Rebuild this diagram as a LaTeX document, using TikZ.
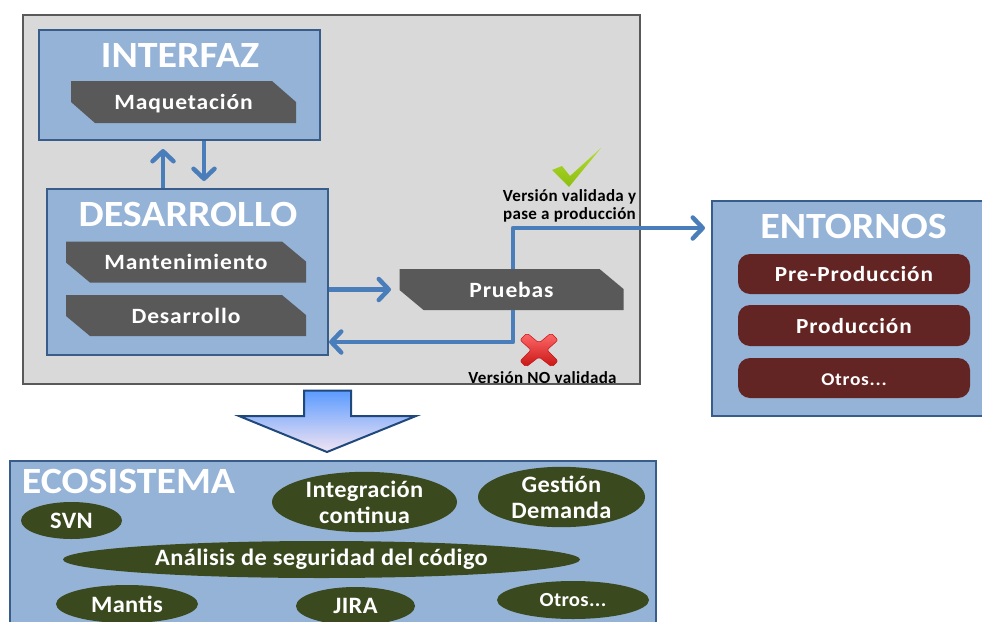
\documentclass[tikz,border=0pt]{standalone}
\usepackage{fontspec}
\setmainfont{Carlito}
\newfontfamily\lblfont[LetterSpace=4,FakeStretch=1.08]{Carlito}
\newfontfamily\ovalfont[LetterSpace=1.5,FakeStretch=1.04]{Carlito}
\newfontfamily\ttlfont[FakeStretch=1.08]{Carlito}
\newfontfamily\notefont[LetterSpace=2]{Carlito}
\usetikzlibrary{arrows.meta,shapes.geometric,shadings}
\definecolor{boxblue}{HTML}{95B3D7}
\definecolor{boxedge}{HTML}{385D8A}
\definecolor{linkblue}{HTML}{4A7EBB}
\definecolor{snipgrey}{HTML}{595959}
\definecolor{panel}{HTML}{D9D9D9}
\definecolor{paneledge}{HTML}{595959}
\definecolor{wine}{HTML}{632523}
\definecolor{olive}{HTML}{3B4A1E}
\definecolor{checktop}{HTML}{B4DC30}
\definecolor{checkbot}{HTML}{8CBE10}
\definecolor{crosstop}{HTML}{FF6A6A}
\definecolor{crossbot}{HTML}{C81414}
\definecolor{arrowtop}{HTML}{5B9BFF}
\definecolor{arrowmid}{HTML}{85B8F0}
\definecolor{arrowbot}{HTML}{F2E4F2}
\definecolor{arrowedge}{HTML}{1F497D}
\tikzset{
  x=1pt,y=-1pt,
  panelbox/.style={draw=paneledge,fill=panel,line width=2pt,rectangle,inner sep=0pt},
  bluebox/.style={draw=boxedge,fill=boxblue,line width=2pt,rectangle,inner sep=0pt},
  titletext/.style={font=\ttlfont\fontsize{37}{40}\selectfont\bfseries,text=white,inner sep=0pt},
  snipfill/.style={fill=snipgrey,draw=none},
  snipnode/.style={font=\lblfont\fontsize{21.8}{24}\selectfont\bfseries,text=white,inner sep=0pt,rectangle,
     text height=17pt,text depth=2pt},
  envbox/.style={rectangle,rounded corners=12pt,fill=wine,draw=none,inner sep=0pt,
     font=\lblfont\fontsize{21.5}{24}\selectfont\bfseries,text=white,text height=17pt,text depth=2pt},
  oval/.style={ellipse,fill=olive,draw=none,inner sep=0pt,
     font=\ovalfont\fontsize{23.5}{26}\selectfont\bfseries,text=white,align=center},
  link/.style={draw=linkblue,line width=4.5pt,line join=round,
     -{Straight Barb[length=10pt,width=21pt,line width=4.5pt,round]}},
  note/.style={font=\notefont\fontsize{17}{18.5}\selectfont\bfseries,text=black,inner sep=0pt,align=center},
}
% centre x, centre y, width, height, cut x, cut y, name, text
\newcommand{\snipshape}[8]{%
  \fill[snipfill] (#1-#3/2,#2-#4/2) -- (#1+#3/2-#5,#2-#4/2) -- (#1+#3/2,#2-#4/2+#6)
    -- (#1+#3/2,#2+#4/2) -- (#1-#3/2+#5,#2+#4/2) -- (#1-#3/2,#2+#4/2-#6) -- cycle;
  \node[snipnode,minimum width=#3pt,minimum height=#4pt] (#7) at (#1,#2) {#8};}
\begin{document}
\begin{tikzpicture}
\useasboundingbox (0,0) rectangle (982,621);
\clip (0,0) rectangle (982,621);
\fill[white] (0,0) rectangle (982,621);

% main panel
\node[panelbox,minimum width=617pt,minimum height=369pt] (panel) at (331.5,199.5) {};

% interfaz
\node[bluebox,minimum width=281pt,minimum height=110pt] (interfaz) at (179.5,85) {};
\node[titletext] (interfaztitle) at (180,55.5) {INTERFAZ};
\snipshape{183.5}{102}{225}{42}{24}{21}{maq}{Maquetación}

% desarrollo
\node[bluebox,minimum width=281pt,minimum height=166pt] (desarrollo) at (187.5,272) {};
\node[titletext] (desarrollotitle) at (188,214.5) {DESARROLLO};
\snipshape{186}{262}{240}{41}{24}{20}{mant}{Mantenimiento}
\snipshape{186}{315.5}{240}{41}{24}{20}{des}{Desarrollo}

% pruebas
\snipshape{511.5}{289.5}{224}{41}{24}{20}{pruebas}{Pruebas}

% entornos
\node[bluebox,minimum width=290pt,minimum height=215pt] (entornos) at (857,308.5) {};
\node[titletext] (entornostitle) at (853.5,226.5) {ENTORNOS};
\node[envbox,minimum width=232pt,minimum height=40pt] (prepro) at (854,274) {Pre-Producción};
\node[envbox,minimum width=232pt,minimum height=41pt] (prod) at (854,325.5) {Producción};
\node[envbox,minimum width=232pt,minimum height=40pt,font=\lblfont\fontsize{18}{22}\selectfont\bfseries,text height=15pt,text depth=1pt] (otrosenv) at (854,378) {Otros...};

% connectors
\coordinate (upend) at (163,149);
\coordinate (downend) at (204,181);
\coordinate (toprobe) at (391,289.5);
\coordinate (corner) at (513,228);
\coordinate (backcorner) at (513,342);
\draw[link] (desarrollo.north -| upend) -- (upend);
\draw[link] (interfaz.south -| downend) -- (downend);
\draw[link] (desarrollo.east |- toprobe) -- (toprobe);
\draw[link,shorten >=6pt] (pruebas.north -| corner) -- (corner) -- (entornos.west |- corner);
\draw[link] (pruebas.south -| backcorner) -- (backcorner) -- (desarrollo.east |- backcorner);

% check mark and cross
\shade[top color=checktop,bottom color=checkbot]
  (552,170) -- (562,166) -- (570,176) -- (601,148) -- (569,187) -- cycle;
\shade[rounded corners=2pt,top color=crosstop,bottom color=crossbot,draw=crossbot,line width=0.5pt]
  (527,333) -- (539,343) -- (551,333) -- (558,340) -- (547,350) -- (558,361) -- (552,367)
  -- (539,357) -- (526,367) -- (520,361) -- (531,350) -- (520,340) -- cycle;
\node[note] (okay) at (569.5,206) {Versión validada y\\pase a producción};
\node[note] (nook) at (542.5,377.5) {Versión NO validada};

% big arrow
\draw[draw=arrowedge,line width=2pt,line join=miter,top color=arrowtop,middle color=arrowmid,bottom color=arrowbot]
  (304,390.5) -- (351,390.5) -- (351,416) -- (416,416) -- (327,452) -- (239,416) -- (304,416) -- cycle;

% ecosistema
\node[bluebox,minimum width=646pt,minimum height=190pt] (eco) at (333,556) {};
\node[titletext] (ecotitle) at (128.5,481) {ECOSISTEMA};
\node[oval,minimum width=101pt,minimum height=37pt] (svn) at (71.5,520.5) {SVN};
\node[oval,minimum width=185pt,minimum height=54pt] (integ) at (364.5,502) {Integración\\continua};
\node[oval,minimum width=167pt,minimum height=57pt] (gest) at (561.5,497) {Gestión\\Demanda};
\node[oval,minimum width=517pt,minimum height=37pt] (ana) at (321.5,559.5) {Análisis de seguridad del código};
\node[oval,minimum width=142pt,minimum height=38pt] (mantis) at (127,604) {Mantis};
\node[oval,minimum width=119pt,minimum height=38pt] (jira) at (355.5,606) {JIRA};
\node[oval,minimum width=152pt,minimum height=38pt,font=\ovalfont\fontsize{20}{24}\selectfont\bfseries] (otroseco) at (573,600) {Otros...};
\end{tikzpicture}
\end{document}
